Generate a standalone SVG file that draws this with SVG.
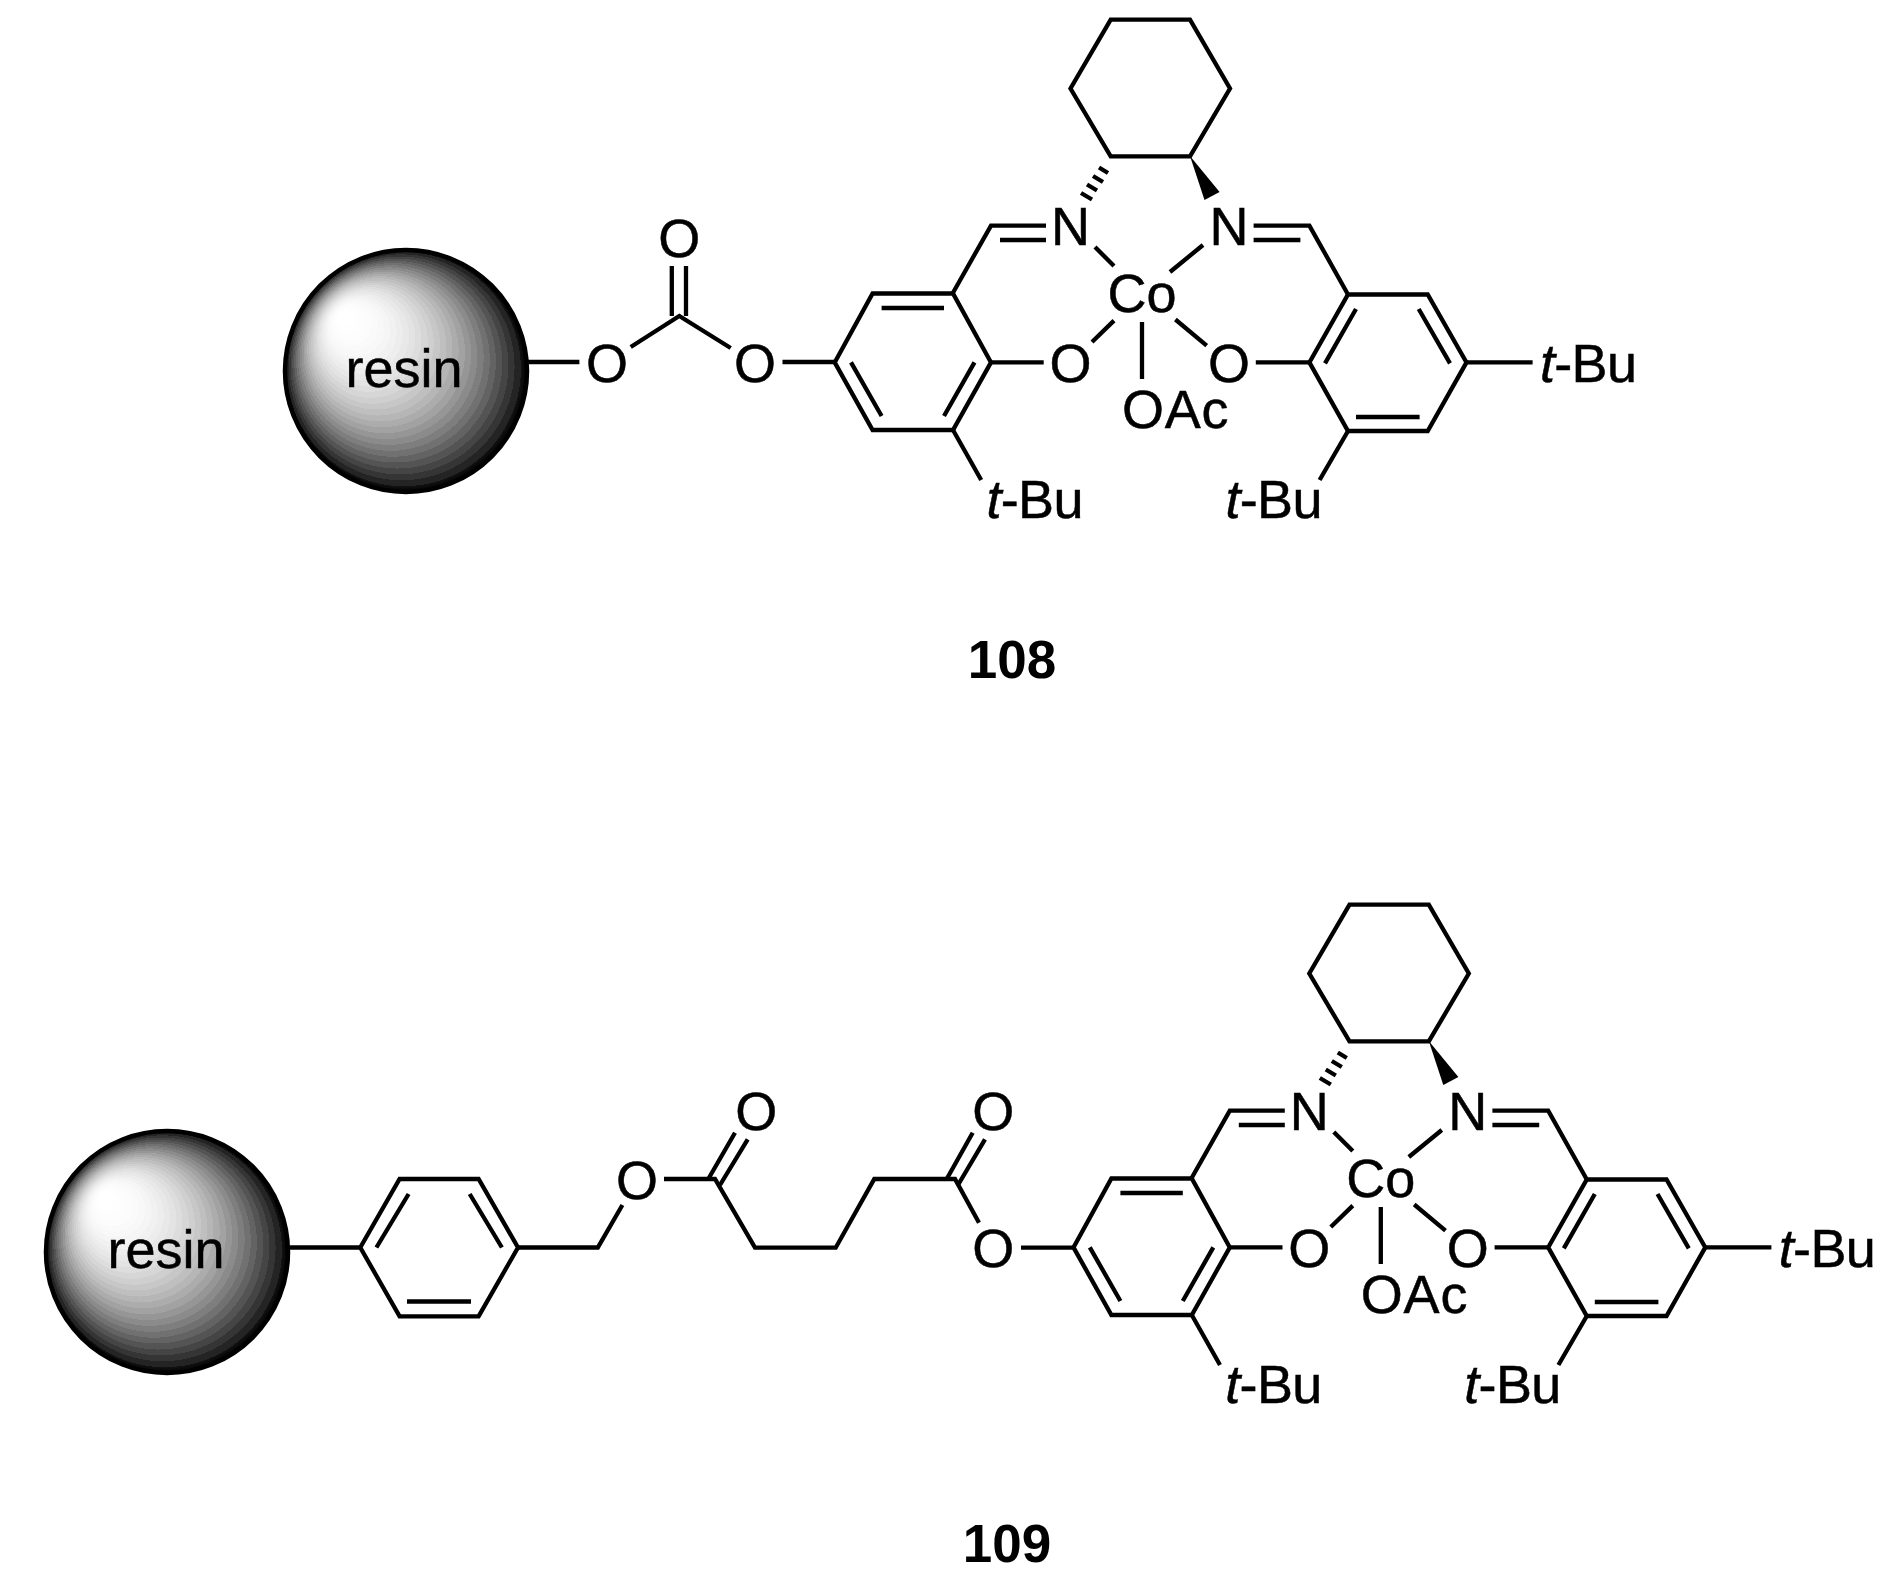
<svg xmlns="http://www.w3.org/2000/svg" xmlns:xlink="http://www.w3.org/1999/xlink" width="1901" height="1590" viewBox="0 0 1901 1590">
<defs>
<style>
.b{fill:none;stroke:#000;stroke-width:4.3;stroke-linecap:butt;stroke-linejoin:miter}
text{font-family:"Liberation Sans",Arial,sans-serif;font-size:54px;fill:#000;stroke:#000;stroke-width:.5}
.m{text-anchor:middle}
.l{font-weight:bold;font-size:53px;text-anchor:middle;stroke:none}
.i{font-style:italic}
.tb{letter-spacing:-.7px}
.ball{stroke:#000;stroke-width:4.5}
</style>
<radialGradient id="sph" gradientUnits="objectBoundingBox" cx="0.5" cy="0.5" r="0.5" fx="0.23" fy="0.27">
<stop offset="0" stop-color="rgb(255,255,255)"/><stop offset=".067" stop-color="rgb(255,255,255)"/>
<stop offset=".067" stop-color="rgb(254,254,254)"/><stop offset=".1" stop-color="rgb(254,254,254)"/>
<stop offset=".1" stop-color="rgb(253,253,253)"/><stop offset=".133" stop-color="rgb(253,253,253)"/>
<stop offset=".133" stop-color="rgb(252,252,252)"/><stop offset=".167" stop-color="rgb(252,252,252)"/>
<stop offset=".167" stop-color="rgb(250,250,250)"/><stop offset=".2" stop-color="rgb(250,250,250)"/>
<stop offset=".2" stop-color="rgb(248,248,248)"/><stop offset=".233" stop-color="rgb(248,248,248)"/>
<stop offset=".233" stop-color="rgb(245,245,245)"/><stop offset=".267" stop-color="rgb(245,245,245)"/>
<stop offset=".267" stop-color="rgb(241,241,241)"/><stop offset=".3" stop-color="rgb(241,241,241)"/>
<stop offset=".3" stop-color="rgb(237,237,237)"/><stop offset=".333" stop-color="rgb(237,237,237)"/>
<stop offset=".333" stop-color="rgb(232,232,232)"/><stop offset=".367" stop-color="rgb(232,232,232)"/>
<stop offset=".367" stop-color="rgb(227,227,227)"/><stop offset=".4" stop-color="rgb(227,227,227)"/>
<stop offset=".4" stop-color="rgb(221,221,221)"/><stop offset=".433" stop-color="rgb(221,221,221)"/>
<stop offset=".433" stop-color="rgb(214,214,214)"/><stop offset=".467" stop-color="rgb(214,214,214)"/>
<stop offset=".467" stop-color="rgb(207,207,207)"/><stop offset=".5" stop-color="rgb(207,207,207)"/>
<stop offset=".5" stop-color="rgb(199,199,199)"/><stop offset=".533" stop-color="rgb(199,199,199)"/>
<stop offset=".533" stop-color="rgb(191,191,191)"/><stop offset=".567" stop-color="rgb(191,191,191)"/>
<stop offset=".567" stop-color="rgb(182,182,182)"/><stop offset=".6" stop-color="rgb(182,182,182)"/>
<stop offset=".6" stop-color="rgb(172,172,172)"/><stop offset=".633" stop-color="rgb(172,172,172)"/>
<stop offset=".633" stop-color="rgb(162,162,162)"/><stop offset=".667" stop-color="rgb(162,162,162)"/>
<stop offset=".667" stop-color="rgb(150,150,150)"/><stop offset=".7" stop-color="rgb(150,150,150)"/>
<stop offset=".7" stop-color="rgb(139,139,139)"/><stop offset=".733" stop-color="rgb(139,139,139)"/>
<stop offset=".733" stop-color="rgb(126,126,126)"/><stop offset=".767" stop-color="rgb(126,126,126)"/>
<stop offset=".767" stop-color="rgb(113,113,113)"/><stop offset=".8" stop-color="rgb(113,113,113)"/>
<stop offset=".8" stop-color="rgb(99,99,99)"/><stop offset=".833" stop-color="rgb(99,99,99)"/>
<stop offset=".833" stop-color="rgb(84,84,84)"/><stop offset=".867" stop-color="rgb(84,84,84)"/>
<stop offset=".867" stop-color="rgb(69,69,69)"/><stop offset=".9" stop-color="rgb(69,69,69)"/>
<stop offset=".9" stop-color="rgb(53,53,53)"/><stop offset=".933" stop-color="rgb(53,53,53)"/>
<stop offset=".933" stop-color="rgb(36,36,36)"/><stop offset=".967" stop-color="rgb(36,36,36)"/>
<stop offset=".967" stop-color="rgb(18,18,18)"/><stop offset="1" stop-color="rgb(0,0,0)"/>
</radialGradient>
<g id="salen">
<path class="b" d="M1110.7 19.6H1190L1230 88.5L1190 156.4H1110.7L1070.5 88.5Z"/>
<path d="M1190 156 L1204.5 200 L1219.6 192Z" fill="#000"/>
<path class="b" style="stroke-width:4.3" d="M1099 167.5L1108 173M1093 176L1103 182M1087 184.5L1097 190.5M1081 193L1092 199.5"/>
<path class="b" d="M1046 225.6H991L952 294.5M1000 240H1046"/>
<path class="b" d="M872.6 293.5H953L991 362.4L953 430H872.6L834.7 362.4Z"/>
<path class="b" d="M881.6 308H944M851 362.4L881.6 416M974.5 362.4L944 416"/>
<path class="b" d="M991 362.4H1043.7M953 430L981.2 480"/>
<path class="b" d="M1095 247L1114 266M1203 245L1170 272M1092 342L1114 320.6M1175.4 319.5L1206.7 345.6M1142 322V379"/>
<path class="b" d="M1253.6 225.6H1309.4L1348 294.5M1253.6 240H1300.4"/>
<path class="b" d="M1348 294.5H1427.7L1466.5 362.4L1427.7 431H1348L1309.4 362.4Z"/>
<path class="b" d="M1356 309L1325 363.4M1418.7 309L1450 363.4M1356 417H1419.6"/>
<path class="b" d="M1255.8 362.4H1309.4M1466.5 362.4H1532.6M1348 431L1319.6 480"/>
<text class="m" x="1070.5" y="244.5">N</text>
<text class="m" x="1229" y="244.5">N</text>
<text class="m" x="1142" y="312">Co</text>
<text class="m" x="1070.5" y="381.5">O</text>
<text class="m" x="1229" y="381.5">O</text>
<text x="1122" y="427.5" style="letter-spacing:.8px">OAc</text>
<text class="tb" x="1540" y="381.5"><tspan class="i">t</tspan>-Bu</text>
<text class="tb" x="986.5" y="517.5"><tspan class="i">t</tspan>-Bu</text>
<text class="tb" x="1225.5" y="517.5"><tspan class="i">t</tspan>-Bu</text>
</g>
</defs>
<rect width="1901" height="1590" fill="#fff"/>
<g id="compound-108">
<g id="resin-108"><circle class="ball" cx="406" cy="371" r="121" fill="url(#sph)"/><text class="m" x="404" y="387">resin</text></g>
<g id="connectors-108">
<path class="b" d="M528 362H579.4M782.5 362H834.7M630.7 347L679.3 316L730.7 348M671.8 266V316M686 266V316"/>
</g>
<g id="atoms-108">
<text class="m" x="607" y="381.5">O</text>
<text class="m" x="755" y="381.5">O</text>
<text class="m" x="679.3" y="257">O</text>
</g>
<g id="complex-108"><use xlink:href="#salen" href="#salen"/></g>
<text id="label-108" class="l" x="1012" y="677.5">108</text>
</g>
<g id="compound-109">
<g id="resin-109"><circle class="ball" cx="167" cy="1252" r="121" fill="url(#sph)"/><text class="m" x="166" y="1268">resin</text></g>
<g id="connectors-109">
<path class="b" d="M290 1247.5H360.3M399.6 1179H478.6L518 1247.5L478.6 1316.4H399.6L360.3 1247.5Z"/>
<path class="b" d="M408.6 1194L376.4 1247.5M469.7 1194L501.9 1247.5M407 1301.5H471"/>
<path class="b" d="M518 1247.5H597.8L622.4 1205M664 1179H715L755 1247.7H835.7L874.3 1179H955L979 1222.7"/>
<path class="b" d="M708.3 1179L735 1132.7M720 1185L747.7 1139.3M946.7 1179L972.7 1132.7M958 1185L985 1139.3"/>
<path class="b" d="M1021 1247.7H1073.5"/>
</g>
<g id="atoms-109">
<text class="m" x="637" y="1198.5">O</text>
<text class="m" x="756.3" y="1130">O</text>
<text class="m" x="993.3" y="1130">O</text>
<text class="m" x="993.3" y="1266.5">O</text>
</g>
<g id="complex-109"><use xlink:href="#salen" href="#salen" transform="translate(238.8,885)"/></g>
<text id="label-109" class="l" x="1007" y="1562">109</text>
</g>
</svg>
